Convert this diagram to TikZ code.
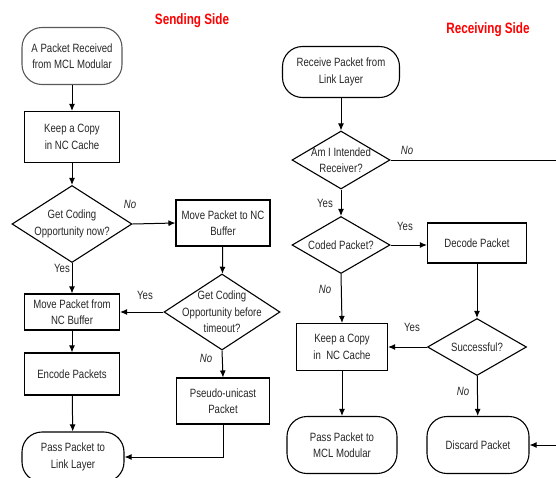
\documentclass[tikz,border=0pt]{standalone}
\usepackage{fontspec}
\setmainfont[FakeStretch=0.8]{Liberation Sans}
\newfontfamily\titlefont[FakeStretch=0.78]{Liberation Sans}
\usetikzlibrary{shapes.geometric}
\usetikzlibrary{arrows.meta}
\tikzset{
	every node/.style = {font=\fontsize{12}{16.5}\selectfont, align=center, text=black!85}
}
\tikzset{
	term/.style = {rectangle, rounded corners=20pt, draw=black, line width=1.1pt},
	proc/.style = {rectangle, draw=black, line width=1.1pt},
	dec/.style = {diamond, draw=black, line width=1.1pt, inner sep=0pt},
	arr/.style = {line width=1pt, -{Latex[length=7pt,width=6pt]}},
	yes/.style = {font=\fontsize{12}{13}\selectfont},
	no/.style = {font=\fontsize{12}{13}\selectfont\itshape},
	side/.style = {font=\titlefont\fontsize{15}{18}\selectfont\bfseries, text=red}
}

\begin{document}
\begin{tikzpicture}[x=1pt, y=-1pt]
        \useasboundingbox (0,0) rectangle (556,477);

        % Titles
        \node[side] (sendt) at (192,21) {Sending Side};
        \node[side] (recvt) at (488,30) {Receiving Side};

        % Sending side
        \node[term, draw=black!65, minimum width=100pt, minimum height=57pt] (start) at (72,56) {A Packet Received\\from MCL Modular};
        \node[proc, minimum width=95pt, minimum height=51pt] (keep) at (72,137) {Keep a Copy\\in NC Cache};
        \node[dec, minimum width=120pt, minimum height=77pt] (codnow) at (72,224) {};
        \node (codnowt) at (codnow) {Get Coding\\Opportunity now?};
        \node[proc, minimum width=94pt, minimum height=46pt] (move) at (223,223) {Move Packet to NC\\Buffer};
        \node[dec, minimum width=116pt, minimum height=76pt] (before) at (222,312) {};
        \node (beforet) at (before) {Get Coding\\Opportunity before\\timeout?};
        \node[proc, minimum width=95pt, minimum height=36pt] (frombuf) at (72,312) {Move Packet from\\NC Buffer};
        \node[proc, minimum width=95pt, minimum height=42pt] (encode) at (72,374) {Encode Packets};
        \node[term, minimum width=102pt, minimum height=50pt] (pass) at (73,457) {Pass Packet to\\Link Layer};
        \node[proc, minimum width=93pt, minimum height=46pt] (pseudo) at (223,401) {Pseudo-unicast\\Packet};

        \draw[arr] (start) -- (keep);
        \draw[arr] (keep) -- (codnow);
        \draw[arr] (codnow.east) -- (move.west);
        \draw[arr] (move) -- (before);
        \draw[arr] (before.west) -- (frombuf.east);
        \draw[arr] (codnow.south) -- (frombuf.north);
        \draw[arr] (frombuf) -- (encode);
        \draw[arr] (encode) -- (pass);
        \draw[arr] (before.south) -- (pseudo.north);
        \draw[arr] (pseudo.south) |- (pass.east);

        \node[no] (no1) at (130,204) {No};
        \node[yes] (yes1) at (62,268) {Yes};
        \node[yes] (yes2) at (145,295) {Yes};
        \node[no] (no2) at (206,358) {No};

        % Receiving side
        \node[term, minimum width=117pt, minimum height=51pt] (recv) at (341,72) {Receive Packet from\\Link Layer};
        \node[dec, minimum width=98pt, minimum height=58pt] (intended) at (341,160) {};
        \node (intendedt) at (intended) {Am I Intended\\Receiver?};
        \node[dec, minimum width=98pt, minimum height=57pt] (coded) at (341,245) {};
        \node (codedt) at (coded) {Coded Packet?};
        \node[proc, minimum width=99pt, minimum height=40pt] (decode) at (477,243) {Decode Packet};
        \node[dec, minimum width=99pt, minimum height=57pt] (success) at (477,347) {};
        \node (successt) at (success) {Successful?};
        \node[proc, minimum width=91pt, minimum height=47pt] (keepr) at (342,347) {Keep a Copy\\in\ \ NC Cache};
        \node[term, minimum width=110pt, minimum height=57pt] (mcl) at (342,445) {Pass Packet to\\MCL Modular};
        \node[term, minimum width=102pt, minimum height=57pt] (discard) at (478,445) {Discard Packet};
        \coordinate (farright) at (600,300);

        \draw[arr] (recv) -- (intended);
        \draw[arr] (intended) -- (coded);
        \draw[arr] (coded.east) -- (decode.west |- coded.east);
        \draw[arr] (decode) -- (success);
        \draw[arr] (success.west) -- (keepr.east);
        \draw[arr] (coded.south) -- (keepr.north);
        \draw[arr] (keepr) -- (mcl);
        \draw[arr] (success) -- (discard);
        \draw[arr] (intended.east) -| (farright) |- (discard.east);

        \node[no] (no3) at (407,150) {No};
        \node[yes] (yes3) at (325,203) {Yes};
        \node[yes] (yes4) at (405,226) {Yes};
        \node[no] (no4) at (325,289) {No};
        \node[yes] (yes5) at (412,327) {Yes};
        \node[no] (no5) at (463,391) {No};
\end{tikzpicture}
\end{document}
